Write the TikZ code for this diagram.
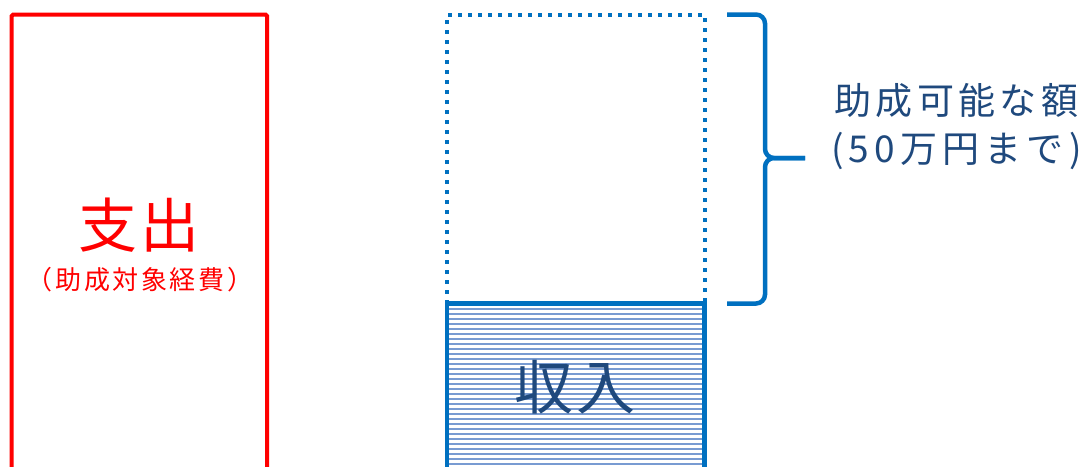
\documentclass[tikz,border=0pt]{standalone}
\usepackage{fontspec}
\setmainfont{Noto Sans CJK JP}
\definecolor{boxblue}{RGB}{0,112,192}
\definecolor{hatchblue}{RGB}{120,155,210}
\definecolor{textblue}{RGB}{31,73,125}
\definecolor{boxred}{RGB}{255,0,0}
\tikzset{
  redbox/.style={draw=boxred,line width=4pt,rounded corners=1.5pt},
  dotbox/.style={draw=boxblue,line width=4pt,dash pattern=on 4pt off 6pt},
  solidbox/.style={draw=boxblue,line width=4.5pt},
  hatchline/.style={draw=hatchblue,line width=1.6pt},
  bracestyle/.style={draw=boxblue,line width=4.5pt,rounded corners=9pt},
  bigtext/.style={inner sep=0pt,font=\fontsize{59}{60}\selectfont\addfontfeature{LetterSpace=4}},
  labeltext/.style={inner sep=0pt,anchor=west,text=textblue},
}
\begin{document}
\begin{tikzpicture}[x=1pt,y=-1pt]
\useasboundingbox (0,0) rectangle (1089,466);
\fill[white] (0,0) rectangle (1089,466);
% red box
\draw[redbox] (11.7,480) -- (11.7,14.5) -- (267,14.5) -- (267,480);
\node[bigtext,text=boxred] (shishutsu) at (139,225) {支出};
\node[inner sep=0pt,text=boxred,font=\fontsize{26}{28}\selectfont\addfontfeature{LetterSpace=10}] (shishutsusub) at (140,280) {（助成対象経費）};
% hatched box
\foreach \yy in {309,314,...,466} \draw[hatchline] (449,\yy) -- (703,\yy);
\draw[solidbox] (447,480) -- (447,303.5) -- (704.5,303.5) -- (704.5,480);
\draw[dotbox] (447,303.5) -- (447,14.5) -- (704.5,14.5) -- (704.5,303.5);
\node[bigtext,text=textblue] (shunyu) at (575,387) {収入};
% brace
\coordinate (btop) at (727,14.5);
\coordinate (bbot) at (727,303.5);
\coordinate (btip) at (805,158);
\draw[bracestyle] (btop) -- (765,14.5) -- (765,158) -- (btip);
\draw[bracestyle] (bbot) -- (765,303.5) -- (765,158) -- (btip);
% label
\node[labeltext,font=\fontsize{37}{40}\selectfont\addfontfeature{LetterSpace=12}] (lab1) at (834,101) {助成可能な額};
\node[labeltext,font=\fontsize{37}{40}\selectfont\addfontfeature{LetterSpace=14}] (lab2) at (831,151) {(50万円まで)};
\end{tikzpicture}
\end{document}
